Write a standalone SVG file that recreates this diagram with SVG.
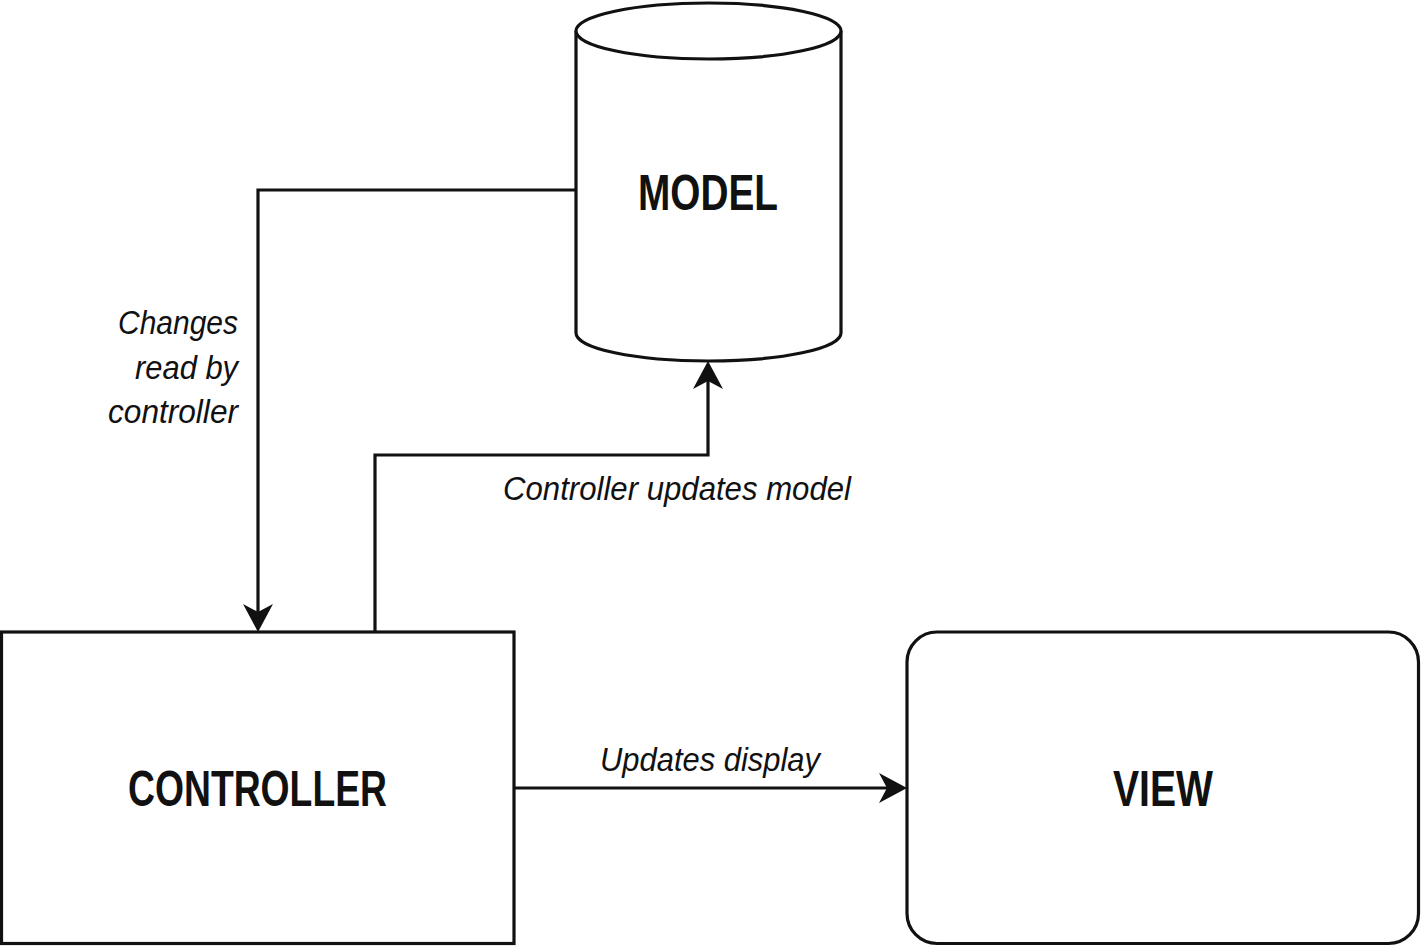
<svg xmlns="http://www.w3.org/2000/svg" width="1421" height="946" viewBox="0 0 1421 946">
<style>
.shape{fill:#fff;stroke:#111;stroke-width:3.2}
.conn{fill:none;stroke:#111;stroke-width:3.2}
.title{font-family:"Liberation Sans Narrow","Liberation Sans",Arial,sans-serif;font-stretch:condensed;font-weight:bold;font-size:50px;fill:#111;text-anchor:middle}
.lbl{font-family:"Liberation Sans Narrow","Liberation Sans",Arial,sans-serif;font-stretch:condensed;font-style:italic;font-size:33px;fill:#111}
</style>
<defs>
<marker id="arr" viewBox="0 0 28 30" refX="18" refY="15" markerWidth="28" markerHeight="30" markerUnits="userSpaceOnUse" orient="auto">
<path d="M0,0 L28,15 L0,30 L8,15 Z" fill="#111"/>
</marker>
</defs>
<rect width="1421" height="946" fill="#fff"/>
<g id="connectors">
<path class="conn" d="M576,190 H258 V622" marker-end="url(#arr)"/>
<path class="conn" d="M375,632 V455 H708 V371" marker-end="url(#arr)"/>
<path class="conn" d="M514,788 H897" marker-end="url(#arr)"/>
</g>
<g id="labels">
<text class="lbl" text-anchor="end" x="238" y="334" textLength="120" lengthAdjust="spacingAndGlyphs">Changes</text>
<text class="lbl" text-anchor="end" x="238" y="379" textLength="103" lengthAdjust="spacingAndGlyphs">read by</text>
<text class="lbl" text-anchor="end" x="238" y="423" textLength="130" lengthAdjust="spacingAndGlyphs">controller</text>
<text class="lbl" x="503" y="500" textLength="348" lengthAdjust="spacingAndGlyphs">Controller updates model</text>
<text class="lbl" x="600" y="771" textLength="220" lengthAdjust="spacingAndGlyphs">Updates display</text>
</g>
<g id="model">
<path class="shape" d="M576,31 V333 A132.5,28 0 0 0 841,333 V31"/>
<ellipse class="shape" cx="708.5" cy="31" rx="132.5" ry="28"/>
<text class="title" x="708" y="210" textLength="140" lengthAdjust="spacingAndGlyphs">MODEL</text>
</g>
<g id="controller">
<rect class="shape" x="1.5" y="632" width="512.5" height="311.5"/>
<text class="title" x="257.5" y="806" textLength="259" lengthAdjust="spacingAndGlyphs">CONTROLLER</text>
</g>
<g id="view">
<rect class="shape" x="907" y="632" width="511.5" height="311.5" rx="30" ry="30"/>
<text class="title" x="1163" y="806" textLength="100" lengthAdjust="spacingAndGlyphs">VIEW</text>
</g>
</svg>
